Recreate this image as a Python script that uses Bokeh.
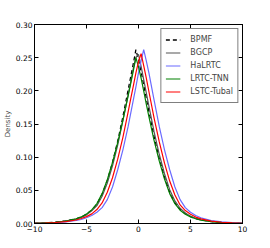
from bokeh.plotting import figure
from bokeh.models import LinearAxis, FixedTicker, Range1d, Legend, LegendItem
from bokeh.embed import file_html
from bokeh.resources import INLINE

x = [-10, -9, -8, -7, -6, -5.5, -5, -4.5, -4, -3.5, -3, -2.5, -2, -1.5, -1, -0.75, -0.5, -0.25,
     0, 0.25, 0.5, 0.75, 1, 1.5, 2, 2.5, 3, 3.5, 4, 4.5, 5, 5.5, 6, 7, 8, 9, 10]

bpmf = [0.0004, 0.001, 0.0019, 0.0038, 0.007, 0.0098, 0.014, 0.020, 0.029, 0.044, 0.065, 0.092,
        0.124, 0.161, 0.201, 0.221, 0.241, 0.262, 0.247, 0.229, 0.209, 0.189, 0.169, 0.131, 0.098,
        0.070, 0.047, 0.031, 0.021, 0.015, 0.0105, 0.0075, 0.0054, 0.0029, 0.0015, 0.0007, 0.0003]

bgcp = [0.0004, 0.0009, 0.0018, 0.0036, 0.0066, 0.0092, 0.013, 0.019, 0.027, 0.041, 0.061, 0.087,
        0.118, 0.155, 0.194, 0.213, 0.234, 0.250, 0.255, 0.237, 0.217, 0.197, 0.177, 0.138, 0.104,
        0.075, 0.051, 0.034, 0.023, 0.016, 0.011, 0.008, 0.0057, 0.0031, 0.0016, 0.0008, 0.0003]

halrtc = [0.0002, 0.0005, 0.0012, 0.0024, 0.0045, 0.006, 0.0086, 0.012, 0.017, 0.024, 0.036, 0.055,
          0.081, 0.111, 0.146, 0.166, 0.186, 0.206, 0.227, 0.245, 0.262, 0.245, 0.227, 0.186, 0.146,
          0.111, 0.081, 0.055, 0.036, 0.024, 0.017, 0.012, 0.0086, 0.0045, 0.0024, 0.0012, 0.0005]

lrtc_tnn = [0.0004, 0.001, 0.0019, 0.0038, 0.007, 0.0099, 0.0142, 0.0205, 0.030, 0.045, 0.066, 0.092,
            0.122, 0.156, 0.192, 0.211, 0.230, 0.250, 0.236, 0.219, 0.200, 0.180, 0.161, 0.125, 0.094,
            0.067, 0.045, 0.030, 0.020, 0.014, 0.010, 0.0072, 0.0052, 0.0028, 0.0014, 0.0007, 0.0003]

lstc_tubal = [0.0003, 0.0007, 0.0015, 0.0029, 0.0053, 0.0075, 0.0104, 0.0145, 0.021, 0.031, 0.047, 0.069,
              0.097, 0.130, 0.168, 0.188, 0.207, 0.227, 0.244, 0.256, 0.238, 0.219, 0.199, 0.159, 0.123,
              0.091, 0.064, 0.043, 0.028, 0.0195, 0.014, 0.0097, 0.0069, 0.0037, 0.0019, 0.0009, 0.0004]

x_ticks = [-10, -5, 0, 5, 10]
y_ticks = [0.0, 0.05, 0.10, 0.15, 0.20, 0.25, 0.30]

FONT = "DejaVu Sans"

p = figure(width=261, height=234, output_backend="svg", toolbar_location=None,
           x_range=Range1d(-10, 10), y_range=Range1d(0, 0.3),
           min_border_left=25, min_border_right=19, min_border_top=24, min_border_bottom=11)
p.background_fill_color = "white"
p.border_fill_color = "white"
p.outline_line_color = "black"
p.outline_line_width = 1
p.xgrid.visible = False
p.ygrid.visible = False

def style_axis(ax, ticks, labels=True):
    ax.ticker = FixedTicker(ticks=ticks)
    ax.major_tick_in = 4
    ax.major_tick_out = 0
    ax.minor_tick_line_color = None
    ax.axis_line_color = "black"
    ax.major_tick_line_color = "black"
    ax.major_label_text_font = FONT
    ax.major_label_text_color = "black"
    ax.major_label_standoff = 2
    ax.major_label_text_font_size = "7.5px"
    if not labels:
        ax.major_label_overrides = {t: "" for t in ticks}
        ax.major_label_standoff = 0

style_axis(p.xaxis[0], x_ticks)
p.xaxis[0].major_label_overrides = {-10: "\u221210", -5: "\u22125", 0: "0", 5: "5", 10: "10"}
style_axis(p.yaxis[0], y_ticks)
p.yaxis[0].major_label_overrides = {t: "%.2f" % t for t in y_ticks}
p.yaxis[0].axis_label = "Density"
p.yaxis[0].axis_label_text_font = FONT
p.yaxis[0].axis_label_text_font_style = "normal"
p.yaxis[0].axis_label_text_font_size = "7px"
p.yaxis[0].axis_label_standoff = 1

top_ax = LinearAxis()
style_axis(top_ax, x_ticks, labels=False)
p.add_layout(top_ax, "above")
right_ax = LinearAxis()
style_axis(right_ax, y_ticks, labels=False)
p.add_layout(right_ax, "right")

r1 = p.line(x, bpmf, line_color="black", line_width=1.3, line_dash="4 3")
r2 = p.line(x, bgcp, line_color="#555555", line_width=1.2)
r3 = p.line(x, halrtc, line_color="#6a6aff", line_width=1.2)
r4 = p.line(x, lrtc_tnn, line_color="#008000", line_width=1.2)
r5 = p.line(x, lstc_tubal, line_color="#ff0000", line_width=1.2)

legend = Legend(items=[
    LegendItem(label="BPMF", renderers=[r1]),
    LegendItem(label="BGCP", renderers=[r2]),
    LegendItem(label="HaLRTC", renderers=[r3]),
    LegendItem(label="LRTC-TNN", renderers=[r4]),
    LegendItem(label="LSTC-Tubal", renderers=[r5]),
], location="top_right")
legend.margin = 4
legend.padding = 4
legend.spacing = 0
legend.glyph_width = 15
legend.glyph_height = 13
legend.label_height = 13
legend.label_standoff = 10
legend.label_text_font = FONT
legend.label_text_font_size = "8px"
legend.border_line_color = "black"
legend.border_line_width = 1
legend.background_fill_alpha = 1
p.add_layout(legend, "center")

open("out.html", "w").write(file_html(p, INLINE))
